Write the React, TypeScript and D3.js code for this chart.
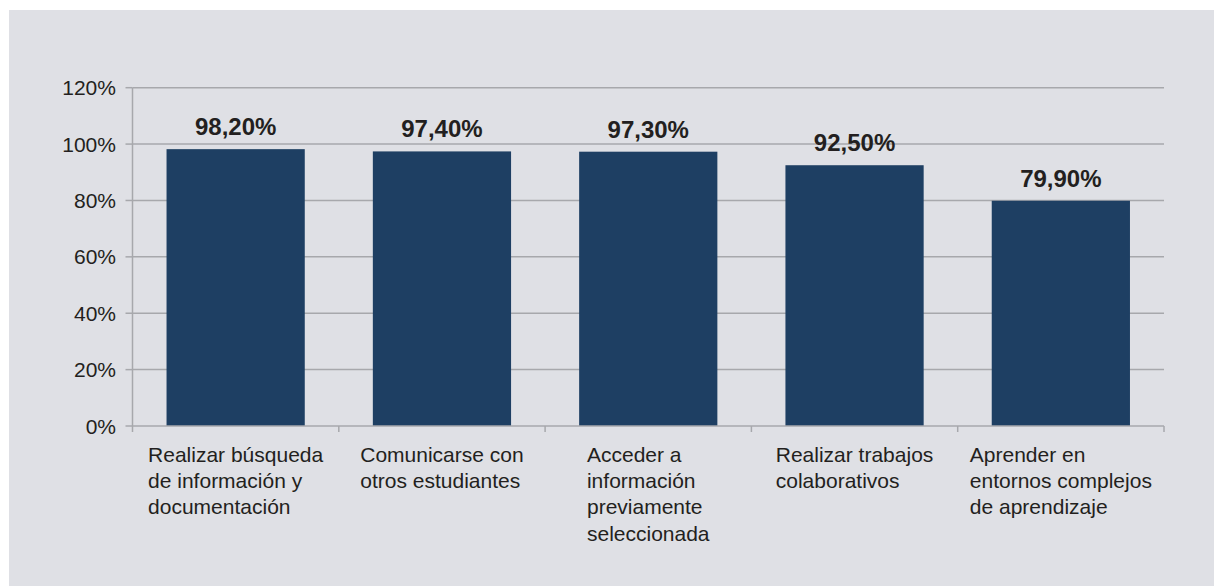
import React from "react";
import * as d3 from "d3";

const categories: string[][] = [
  ["Realizar búsqueda", "de información y", "documentación"],
  ["Comunicarse con", "otros estudiantes"],
  ["Acceder a", "información", "previamente", "seleccionada"],
  ["Realizar trabajos", "colaborativos"],
  ["Aprender en", "entornos complejos", "de aprendizaje"],
];
const values: number[] = [98.2, 97.4, 97.3, 92.5, 79.9];
const valueLabels: string[] = ["98,20%", "97,40%", "97,30%", "92,50%", "79,90%"];
const yTicks: number[] = [0, 20, 40, 60, 80, 100, 120];

const W = 1214;
const H = 586;
const left = 132.5;
const right = 1164;
const top = 87.7;
const bottom = 426;
const FONT = "'Liberation Sans', Arial, Helvetica, sans-serif";
const TEXT = "#231f20";
const GRID = "#a7a8ac";

export default function App() {
  const x = d3
    .scaleBand<number>()
    .domain(d3.range(values.length))
    .range([left, right])
    .paddingInner(0.33)
    .paddingOuter(0.165);
  const band = d3.scaleBand<number>().domain(d3.range(values.length)).range([left, right]);
  const y = d3.scaleLinear().domain([0, 120]).range([bottom, top]);

  const measure = (lines: string[]) => {
    const ctx = document.createElement("canvas").getContext("2d")!;
    ctx.font = `21px ${FONT}`;
    return Math.max(...lines.map((l) => ctx.measureText(l).width));
  };

  return (
    <div style={{ position: "absolute", left: 0, top: 0 }}>
      <svg width={W} height={H} style={{ display: "block" }}>
        <rect x={0} y={0} width={W} height={H} fill="#ffffff" />
        <rect x={9} y={10} width={W - 9} height={H - 10} fill="#dfe0e5" />
        {yTicks.map((t) => (
          <g key={t}>
            {t > 0 && (
              <line x1={left} x2={right} y1={y(t)} y2={y(t)} stroke={GRID} strokeWidth={1.5} />
            )}
            <line x1={left - 7} x2={left} y1={y(t)} y2={y(t)} stroke={GRID} strokeWidth={1.5} />
            <text
              x={116}
              y={y(t) + 7.5}
              textAnchor="end"
              fontFamily={FONT}
              fontSize={21}
              fill={TEXT}
            >
              {t}%
            </text>
          </g>
        ))}
        <line x1={left} x2={left} y1={top} y2={bottom + 6} stroke={GRID} strokeWidth={1.5} />
        {values.map((v, i) => (
          <g key={i}>
            <rect
              x={x(i)!}
              y={y(v)}
              width={x.bandwidth()}
              height={bottom - y(v)}
              fill="#1e3f63"
            />
            <text
              x={x(i)! + x.bandwidth() / 2}
              y={y(v) - 14}
              textAnchor="middle"
              fontFamily={FONT}
              fontSize={24}
              fontWeight="bold"
              fill={TEXT}
            >
              {valueLabels[i]}
            </text>
          </g>
        ))}
        <line x1={left} x2={right} y1={bottom} y2={bottom} stroke={GRID} strokeWidth={1.5} />
        {values.map((_, i) => (
          <line
            key={i}
            x1={band(i)! + band.bandwidth()}
            x2={band(i)! + band.bandwidth()}
            y1={bottom}
            y2={bottom + 6}
            stroke={GRID}
            strokeWidth={1.5}
          />
        ))}
        {categories.map((lines, i) => {
          const w = measure(lines);
          const cx = band(i)! + band.bandwidth() / 2;
          return (
            <text key={i} fontFamily={FONT} fontSize={21} fill={TEXT}>
              {lines.map((l, j) => (
                <tspan key={j} x={cx - w / 2} y={462 + j * 26.2}>
                  {l}
                </tspan>
              ))}
            </text>
          );
        })}
      </svg>
    </div>
  );
}
